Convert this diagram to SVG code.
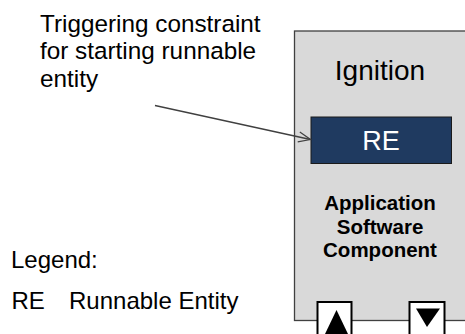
<svg xmlns="http://www.w3.org/2000/svg" width="465" height="334" viewBox="0 0 465 334">
<defs>
<style>
.t{font-family:"Liberation Sans",Arial,sans-serif;fill:#000}
.ann{font-size:24.3px}
.leg{font-size:24px}
.big{font-size:28px}
.bold{font-size:20.5px;font-weight:bold;text-anchor:middle}
.port{fill:#fff;stroke:#000;stroke-width:2}
.conn{fill:none;stroke:#404040;stroke-width:1.3}
</style>
<marker id="open" viewBox="0 0 14 12" refX="13" refY="6" markerWidth="14" markerHeight="12" markerUnits="userSpaceOnUse" orient="auto">
<path d="M1,1 L13,6 L1,11" fill="none" stroke="#404040" stroke-width="1.2"/>
</marker>
</defs>
<rect width="465" height="334" fill="#fff"/>
<g id="swc">
<rect x="294.5" y="31" width="180" height="289.5" fill="#d9d9d9" stroke="#404040" stroke-width="1.3"/>
<text class="t big" x="380" y="79.5" text-anchor="middle">Ignition</text>
<text class="t bold" x="380" y="210">Application</text>
<text class="t bold" x="380" y="233.5">Software</text>
<text class="t bold" x="380" y="257">Component</text>
</g>
<g id="re">
<rect x="311" y="117" width="140.5" height="46.5" fill="#1f3a60" stroke="#1a1a1a" stroke-width="1"/>
<text class="t" x="381" y="149.5" font-size="27" text-anchor="middle" style="fill:#fff">RE</text>
</g>
<g id="port-in">
<rect class="port" x="317.5" y="302" width="34" height="40"/>
<polygon points="336.5,310 325,334 348,334" fill="#000"/>
</g>
<g id="port-out">
<rect class="port" x="409.5" y="302" width="35" height="40"/>
<polygon points="416,308.5 440,308.5 427,327" fill="#000"/>
</g>
<g id="annotation">
<text class="t ann" x="40" y="31.5">Triggering constraint</text>
<text class="t ann" x="40" y="59">for starting runnable</text>
<text class="t ann" x="40" y="86.5">entity</text>
</g>
<g id="legend">
<text class="t leg" x="11" y="268">Legend:</text>
<text class="t leg" x="11.5" y="309">RE</text>
<text class="t leg" x="69" y="309">Runnable Entity</text>
</g>
<g id="connectors">
<line class="conn" x1="155" y1="105.5" x2="310.5" y2="139.5" marker-end="url(#open)"/>
</g>
</svg>
